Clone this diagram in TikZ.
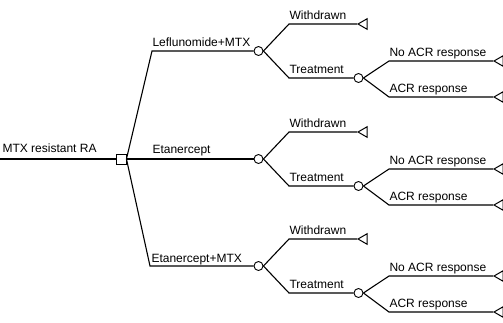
\documentclass[tikz,border=0pt]{standalone}
\usepackage{fontspec}
\setmainfont{Liberation Sans}
\usetikzlibrary{shapes.geometric}
\begin{document}
\begin{tikzpicture}[x=1pt,y=-1pt,line width=1.1pt,
	decision/.style={draw,rectangle,minimum size=10pt,inner sep=0pt,line width=0.9pt},
	chance/.style={draw,circle,minimum size=9pt,inner sep=0pt,line width=0.9pt},
	terminal/.style={draw,regular polygon,regular polygon sides=3,shape border rotate=90,
		minimum size=12pt,inner sep=0pt,anchor=corner 1,line width=1pt},
	lab/.style={anchor=base west,inner sep=0pt,font=\fontsize{12}{14}\selectfont}]
	\useasboundingbox (0,0) rectangle (503,322);
	\node [decision] (dec) at (121,159) {};
	\node [chance] (c1) at (258.5,51) {};
	\node [chance] (c2) at (258.5,159) {};
	\node [chance] (c3) at (258.5,266) {};
	\node [chance] (t1) at (358.5,78) {};
	\node [chance] (t2) at (358.5,186) {};
	\node [chance] (t3) at (358.5,293) {};
	\node [terminal] (w1) at (357,24) {};
	\node [terminal] (w2) at (357,132) {};
	\node [terminal] (w3) at (357,239) {};
	\node [terminal] (n1) at (493,61) {};
	\node [terminal] (a1) at (493,97) {};
	\node [terminal] (n2) at (493,169) {};
	\node [terminal] (a2) at (493,205) {};
	\node [terminal] (n3) at (493,276) {};
	\node [terminal] (a3) at (493,312) {};
	\coordinate (root) at (0,159);
	\draw (root) -- (dec.west);
	\node [lab] (rootlab) at (2,152) {MTX resistant RA};
	\draw (dec.east) -- (152,51) -- (c1.west);
	\node [lab] (lef) at (152,46) {Leflunomide+MTX};
	\draw (dec.east) -- (c2.west);
	\node [lab] (eta) at (152,153) {Etanercept};
	\draw (dec.east) -- (150,266) -- (c3.west);
	\node [lab] (etm) at (151,262) {Etanercept+MTX};
	\draw (c1.east) -- (289,24) -- (w1.corner 1);
	\node [lab] (wd1) at (289,19) {Withdrawn};
	\draw (c1.east) -- (289,78) -- (t1.west);
	\node [lab] (tr1) at (289,73) {Treatment};
	\draw (t1.east) -- (389,61) -- (n1.corner 1);
	\node [lab] (no1) at (389,56) {No ACR response};
	\draw (t1.east) -- (389,97) -- (a1.corner 1);
	\node [lab] (ac1) at (389,92) {ACR response};
	\draw (c2.east) -- (289,132) -- (w2.corner 1);
	\node [lab] (wd2) at (289,127) {Withdrawn};
	\draw (c2.east) -- (289,186) -- (t2.west);
	\node [lab] (tr2) at (289,181) {Treatment};
	\draw (t2.east) -- (389,169) -- (n2.corner 1);
	\node [lab] (no2) at (389,164) {No ACR response};
	\draw (t2.east) -- (389,205) -- (a2.corner 1);
	\node [lab] (ac2) at (389,200) {ACR response};
	\draw (c3.east) -- (289,239) -- (w3.corner 1);
	\node [lab] (wd3) at (289,234) {Withdrawn};
	\draw (c3.east) -- (289,293) -- (t3.west);
	\node [lab] (tr3) at (289,288) {Treatment};
	\draw (t3.east) -- (389,276) -- (n3.corner 1);
	\node [lab] (no3) at (389,271) {No ACR response};
	\draw (t3.east) -- (389,312) -- (a3.corner 1);
	\node [lab] (ac3) at (389,307) {ACR response};
\end{tikzpicture}
\end{document}
